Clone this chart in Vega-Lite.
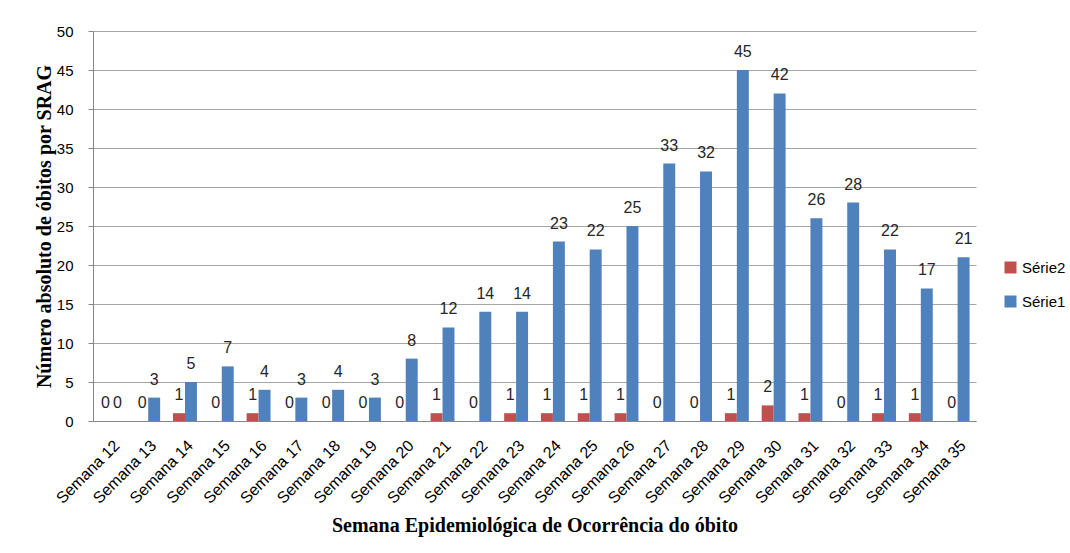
{
  "$schema": "https://vega.github.io/schema/vega-lite/v6.json",
  "width": 883,
  "height": 390,
  "autosize": {"type": "none"},
  "padding": {"left": 93, "top": 31, "right": 94, "bottom": 132},
  "background": "white",
  "config": {
    "view": {"stroke": null},
    "font": "Liberation Sans"
  },
  "data": {
    "values": [
      {"semana": "Semana 12", "serie": "Série2", "valor": 0},
      {"semana": "Semana 12", "serie": "Série1", "valor": 0},
      {"semana": "Semana 13", "serie": "Série2", "valor": 0},
      {"semana": "Semana 13", "serie": "Série1", "valor": 3},
      {"semana": "Semana 14", "serie": "Série2", "valor": 1},
      {"semana": "Semana 14", "serie": "Série1", "valor": 5},
      {"semana": "Semana 15", "serie": "Série2", "valor": 0},
      {"semana": "Semana 15", "serie": "Série1", "valor": 7},
      {"semana": "Semana 16", "serie": "Série2", "valor": 1},
      {"semana": "Semana 16", "serie": "Série1", "valor": 4},
      {"semana": "Semana 17", "serie": "Série2", "valor": 0},
      {"semana": "Semana 17", "serie": "Série1", "valor": 3},
      {"semana": "Semana 18", "serie": "Série2", "valor": 0},
      {"semana": "Semana 18", "serie": "Série1", "valor": 4},
      {"semana": "Semana 19", "serie": "Série2", "valor": 0},
      {"semana": "Semana 19", "serie": "Série1", "valor": 3},
      {"semana": "Semana 20", "serie": "Série2", "valor": 0},
      {"semana": "Semana 20", "serie": "Série1", "valor": 8},
      {"semana": "Semana 21", "serie": "Série2", "valor": 1},
      {"semana": "Semana 21", "serie": "Série1", "valor": 12},
      {"semana": "Semana 22", "serie": "Série2", "valor": 0},
      {"semana": "Semana 22", "serie": "Série1", "valor": 14},
      {"semana": "Semana 23", "serie": "Série2", "valor": 1},
      {"semana": "Semana 23", "serie": "Série1", "valor": 14},
      {"semana": "Semana 24", "serie": "Série2", "valor": 1},
      {"semana": "Semana 24", "serie": "Série1", "valor": 23},
      {"semana": "Semana 25", "serie": "Série2", "valor": 1},
      {"semana": "Semana 25", "serie": "Série1", "valor": 22},
      {"semana": "Semana 26", "serie": "Série2", "valor": 1},
      {"semana": "Semana 26", "serie": "Série1", "valor": 25},
      {"semana": "Semana 27", "serie": "Série2", "valor": 0},
      {"semana": "Semana 27", "serie": "Série1", "valor": 33},
      {"semana": "Semana 28", "serie": "Série2", "valor": 0},
      {"semana": "Semana 28", "serie": "Série1", "valor": 32},
      {"semana": "Semana 29", "serie": "Série2", "valor": 1},
      {"semana": "Semana 29", "serie": "Série1", "valor": 45},
      {"semana": "Semana 30", "serie": "Série2", "valor": 2},
      {"semana": "Semana 30", "serie": "Série1", "valor": 42},
      {"semana": "Semana 31", "serie": "Série2", "valor": 1},
      {"semana": "Semana 31", "serie": "Série1", "valor": 26},
      {"semana": "Semana 32", "serie": "Série2", "valor": 0},
      {"semana": "Semana 32", "serie": "Série1", "valor": 28},
      {"semana": "Semana 33", "serie": "Série2", "valor": 1},
      {"semana": "Semana 33", "serie": "Série1", "valor": 22},
      {"semana": "Semana 34", "serie": "Série2", "valor": 1},
      {"semana": "Semana 34", "serie": "Série1", "valor": 17},
      {"semana": "Semana 35", "serie": "Série2", "valor": 0},
      {"semana": "Semana 35", "serie": "Série1", "valor": 21}
    ]
  },
  "encoding": {
    "x": {
      "field": "semana",
      "type": "nominal",
      "sort": null,
      "scale": {"paddingInner": 0.35, "paddingOuter": 0.175},
      "axis": {
        "title": "Semana Epidemiológica de Ocorrência do óbito",
        "titleFont": "Liberation Serif",
        "titleFontWeight": "bold",
        "titleFontSize": 20,
        "titleColor": "#000000",
        "titlePadding": 9,
        "labelAngle": -45,
        "labelFontSize": 16,
        "labelColor": "#000000",
        "labelPadding": 16,
        "ticks": false,
        "domainColor": "#868686",
        "domainWidth": 1
      }
    },
    "xOffset": {
      "field": "serie",
      "type": "nominal",
      "sort": ["Série2", "Série1"],
      "scale": {"domain": ["Série2", "Série1"], "paddingInner": 0, "paddingOuter": 0}
    },
    "y": {
      "field": "valor",
      "type": "quantitative",
      "scale": {"domain": [0, 50], "nice": false},
      "axis": {
        "title": "Número absoluto de óbitos por SRAG",
        "titleFont": "Liberation Serif",
        "titleFontWeight": "bold",
        "titleFontSize": 20,
        "titleColor": "#000000",
        "titlePadding": 2,
        "values": [0, 5, 10, 15, 20, 25, 30, 35, 40, 45, 50],
        "labelFontSize": 15,
        "labelColor": "#000000",
        "labelPadding": 15,
        "tickSize": 5,
        "tickColor": "#868686",
        "domainColor": "#868686",
        "gridColor": "#a6a6a6",
        "gridWidth": 1
      }
    }
  },
  "layer": [
    {
      "mark": {"type": "bar"},
      "encoding": {
        "color": {
          "field": "serie",
          "type": "nominal",
          "scale": {"domain": ["Série2", "Série1"], "range": ["#C0504D", "#4F81BD"]},
          "legend": {
            "title": null,
            "orient": "none",
            "legendX": 910,
            "legendY": 229,
            "symbolType": "square",
            "symbolSize": 144,
            "symbolStrokeWidth": 0,
            "labelFontSize": 15,
            "labelColor": "#000000",
            "rowPadding": 18,
            "labelOffset": 4
          }
        }
      }
    },
    {
      "mark": {"type": "text", "dy": -18, "fontSize": 16, "color": "#262626"},
      "encoding": {
        "text": {"field": "valor", "type": "quantitative"}
      }
    }
  ]
}
